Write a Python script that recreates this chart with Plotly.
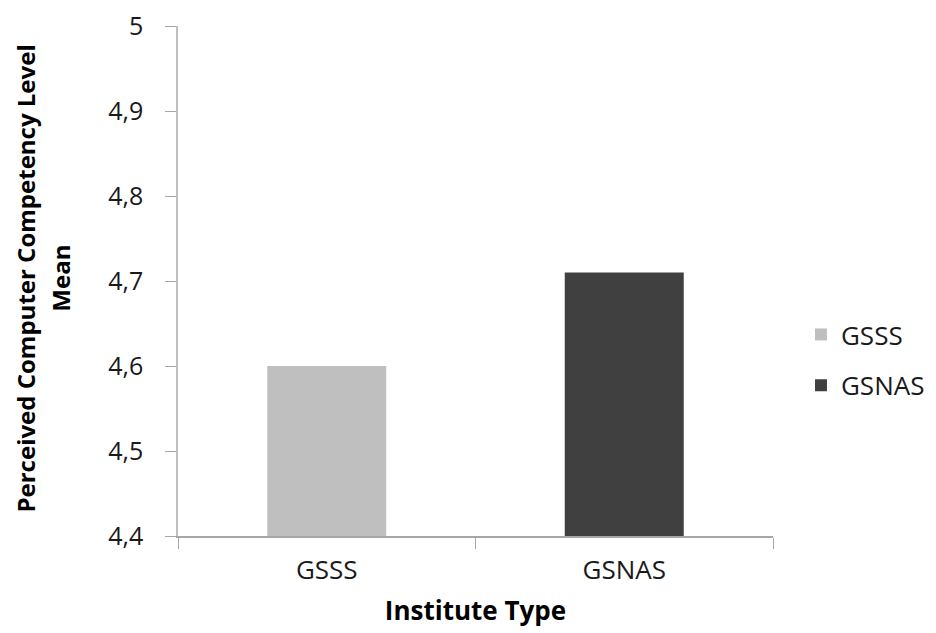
import plotly.graph_objects as go

categories = ["GSSS", "GSNAS"]
means = [4.60, 4.71]
colors = ["#bfbfbf", "#404040"]
y_tick_vals = [4.4, 4.5, 4.6, 4.7, 4.8, 4.9, 5.0]
y_tick_text = ["4,4", "4,5", "4,6", "4,7", "4,8", "4,9", "5"]
y_title_lines = ["Perceived Computer Competency Level", "Mean"]
x_title = "Institute Type"

FONT = "Open Sans"
TXT = "#1a1a1a"

fig = go.Figure()
for cat, val, col in zip(categories, means, colors):
    fig.add_trace(go.Bar(
        x=[cat], y=[val], name=cat, width=0.4,
        legendgroup=cat,
        marker=dict(color=col, line=dict(width=0)),
    ))

# two-line y-axis title, placed as rotated annotations
for txt, xp in zip(y_title_lines, [-0.2570, -0.1980]):
    fig.add_annotation(
        text="<b>" + txt + "</b>", textangle=-90,
        xref="paper", yref="paper", x=xp, y=0.505,
        xanchor="center", yanchor="middle", showarrow=False,
        font=dict(size=24, family=FONT, color="#000000"),
    )

fig.update_layout(
    width=936, height=633,
    margin=dict(l=170, r=171, t=18, b=105),
    paper_bgcolor="white", plot_bgcolor="white",
    barmode="overlay",
    font=dict(family=FONT, color=TXT),
    showlegend=True,
    legend=dict(
        x=1.047, xanchor="left", y=0.345, yanchor="middle",
        font=dict(size=26, family=FONT, color=TXT),
        traceorder="grouped", tracegroupgap=14,
        bgcolor="rgba(0,0,0,0)",
    ),
    xaxis=dict(
        categoryorder="array", categoryarray=categories,
        range=[-0.5, 1.5], automargin=False,
        showline=True, linecolor="#a6a6a6", linewidth=1.5,
        ticks="outside", tickson="boundaries", ticklen=11, tickcolor="#a6a6a6",
        ticklabelstandoff=10,
        tickfont=dict(size=26, family=FONT, color=TXT),
        showgrid=False,
        title=dict(text="<b>" + x_title + "</b>", font=dict(size=26, family=FONT, color="#000000"), standoff=16),
    ),
    yaxis=dict(
        range=[4.4, 5.0], automargin=False,
        tickvals=y_tick_vals, ticktext=y_tick_text,
        showline=True, linecolor="#bfbfbf", linewidth=1.5,
        ticks="outside", ticklen=11, tickcolor="#a6a6a6",
        ticklabelstandoff=17, ticklabeloverflow="allow",
        tickfont=dict(size=25, family=FONT, color=TXT),
        showgrid=False, zeroline=False,
    ),
)

fig.write_html("out.html")
